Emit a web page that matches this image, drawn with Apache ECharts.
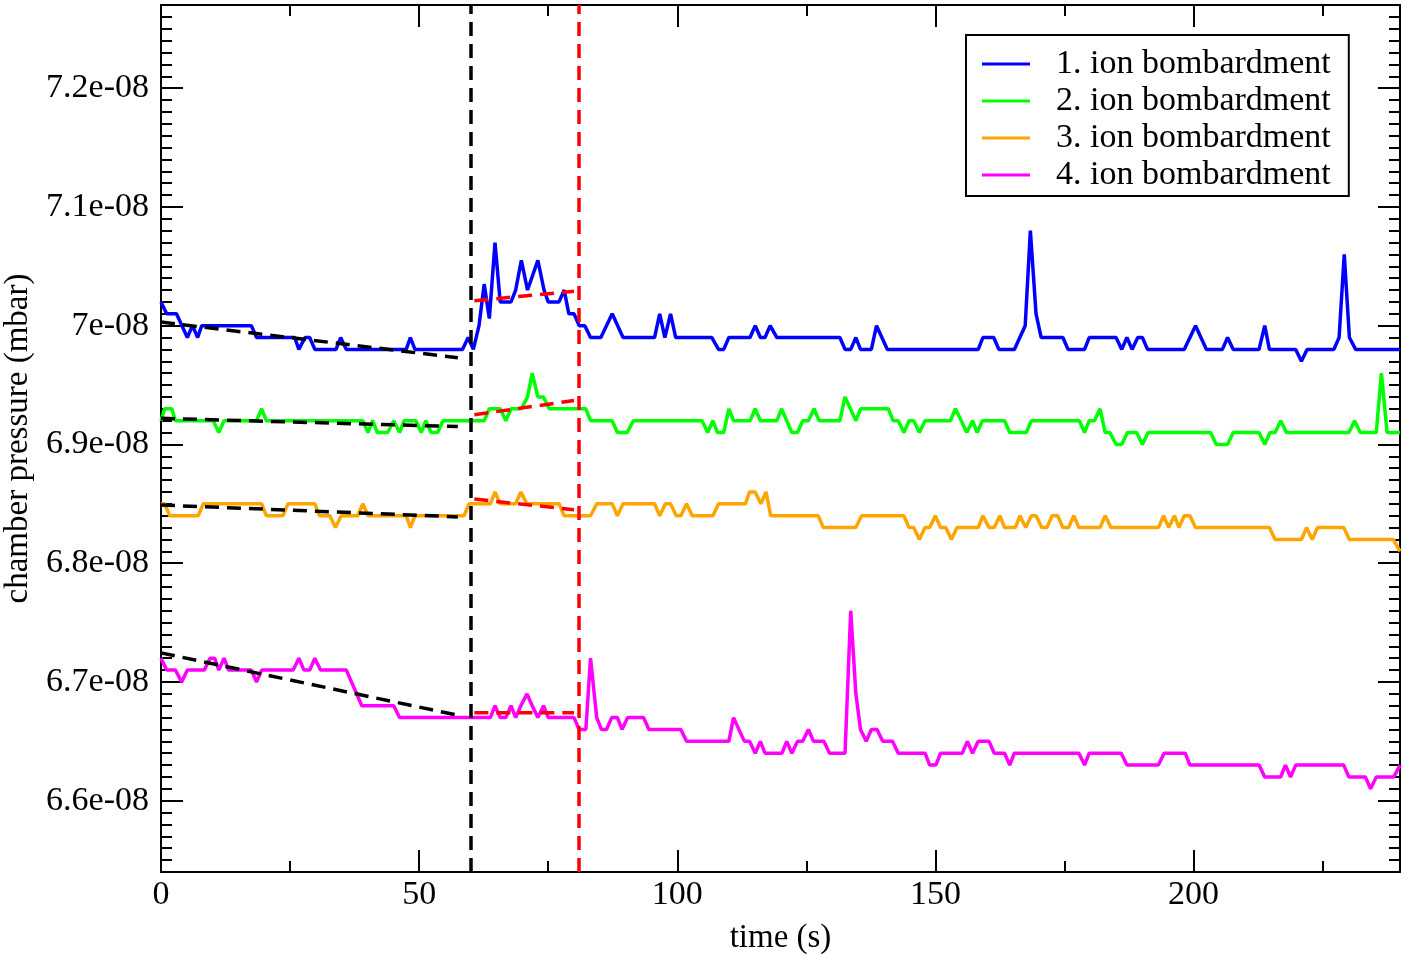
<!DOCTYPE html>
<html>
<head>
<meta charset="utf-8">
<title>chamber pressure during ion bombardment</title>
<script src="https://cdn.jsdelivr.net/npm/echarts@6.0.0/dist/echarts.min.js"></script>
<style>
  html, body { margin: 0; padding: 0; background: #fff; }
  #chart { width: 1407px; height: 955px; }
</style>
</head>
<body>
<div id="chart"></div>
<script>
// time (s), pressure in units of 1e-8 mbar; vertices of each trace
const run1 = [[0,7.02],[1.1,7.01],[3.0,7.01],[5.1,6.99],[6.1,7.00],[7.1,6.99],[7.9,7.00],[17.5,7.00],[18.5,6.99],[25.9,6.99],[26.7,6.98],[27.9,6.99],[28.8,6.99],[29.8,6.98],[33.9,6.98],[34.8,6.99],[35.9,6.98],[47.5,6.98],[48.3,6.99],[49.2,6.98],[58.4,6.98],[59.5,6.99],[60.5,6.98],[61.6,7.00],[62.6,7.035],[63.6,7.006],[64.7,7.07],[65.7,7.02],[67.8,7.02],[68.7,7.03],[69.8,7.055],[71.0,7.03],[73.0,7.055],[74.2,7.03],[75.0,7.02],[77.1,7.02],[78.1,7.03],[79.0,7.01],[80.0,7.01],[81.0,7.00],[82.1,7.00],[83.2,6.99],[85.2,6.99],[87.4,7.01],[89.5,6.99],[95.6,6.99],[96.6,7.01],[97.6,6.99],[98.7,7.01],[99.7,6.99],[106.7,6.99],[108.0,6.98],[109.0,6.98],[110.0,6.99],[114.1,6.99],[115.1,7.00],[116.1,6.99],[117.0,6.99],[118.0,7.00],[119.3,6.99],[131.5,6.99],[132.5,6.98],[133.6,6.98],[134.6,6.99],[135.5,6.98],[137.6,6.98],[138.6,7.00],[140.7,6.98],[158.3,6.98],[159.2,6.99],[161.3,6.99],[162.3,6.98],[165.3,6.98],[167.4,7.00],[168.4,7.08],[169.5,7.01],[170.5,6.99],[174.7,6.99],[175.7,6.98],[178.9,6.98],[179.8,6.99],[185.0,6.99],[186.1,6.98],[187.1,6.99],[188.1,6.98],[189.2,6.99],[190.1,6.99],[191.1,6.98],[198.2,6.98],[200.4,7.00],[202.5,6.98],[205.6,6.98],[206.6,6.99],[207.7,6.98],[212.7,6.98],[213.8,7.00],[214.7,6.98],[219.8,6.98],[220.9,6.97],[222.0,6.98],[227.2,6.98],[228.2,6.99],[229.2,7.06],[230.2,6.99],[231.4,6.98],[240,6.98]];
const run2 = [[0,6.92],[0.7,6.93],[2.1,6.93],[2.8,6.92],[10.1,6.92],[11.2,6.91],[12.2,6.92],[18.5,6.92],[19.5,6.93],[20.4,6.92],[39.1,6.92],[40.1,6.91],[41.0,6.92],[41.9,6.91],[43.9,6.91],[45.1,6.92],[46.2,6.91],[47.1,6.92],[49.4,6.92],[50.4,6.91],[51.3,6.92],[52.3,6.91],[53.6,6.91],[54.6,6.92],[62.6,6.92],[63.6,6.93],[65.7,6.93],[66.8,6.92],[67.8,6.93],[69.8,6.93],[71.0,6.94],[71.9,6.96],[73.0,6.94],[74.1,6.94],[75.2,6.93],[82.3,6.93],[83.2,6.92],[87.4,6.92],[88.4,6.91],[90.3,6.91],[91.5,6.92],[104.8,6.92],[105.9,6.91],[106.9,6.92],[107.8,6.91],[109.0,6.91],[110.0,6.93],[110.9,6.92],[114.1,6.92],[115.1,6.93],[116.1,6.92],[119.3,6.92],[120.2,6.93],[122.2,6.91],[123.3,6.91],[124.3,6.92],[125.4,6.92],[126.5,6.93],[127.5,6.92],[131.5,6.92],[132.5,6.94],[134.6,6.92],[135.5,6.93],[140.9,6.93],[141.8,6.92],[142.8,6.92],[143.9,6.91],[144.9,6.92],[145.8,6.92],[146.9,6.91],[148.0,6.92],[152.9,6.92],[153.9,6.93],[156.1,6.91],[157.2,6.92],[158.1,6.91],[159.1,6.92],[163.4,6.92],[164.4,6.91],[167.6,6.91],[168.6,6.92],[177.9,6.92],[178.9,6.91],[179.8,6.92],[180.8,6.92],[181.9,6.93],[182.9,6.91],[183.8,6.91],[185.0,6.90],[186.1,6.90],[187.2,6.91],[189.0,6.91],[190.1,6.90],[191.2,6.91],[203.3,6.91],[204.4,6.90],[206.6,6.90],[207.7,6.91],[212.7,6.91],[213.8,6.90],[214.8,6.91],[215.8,6.91],[216.9,6.92],[218.0,6.91],[230.1,6.91],[231.2,6.92],[232.3,6.91],[235.4,6.91],[236.4,6.96],[237.5,6.91],[240,6.91]];
const run3 = [[0,6.85],[0.7,6.85],[1.7,6.84],[7.2,6.84],[8.2,6.85],[19.5,6.85],[20.4,6.84],[23.6,6.84],[24.6,6.85],[29.8,6.85],[30.7,6.84],[32.7,6.84],[33.8,6.83],[34.9,6.84],[38.1,6.84],[39.1,6.85],[40.1,6.84],[47.5,6.84],[48.3,6.83],[49.2,6.84],[58.7,6.84],[59.7,6.85],[63.8,6.85],[64.7,6.86],[65.7,6.85],[68.7,6.85],[69.7,6.86],[70.9,6.85],[77.1,6.85],[78.1,6.84],[83.2,6.84],[84.4,6.85],[87.4,6.85],[88.4,6.84],[89.5,6.85],[95.6,6.85],[96.6,6.84],[97.7,6.85],[98.7,6.85],[99.8,6.84],[100.7,6.84],[101.8,6.85],[102.9,6.84],[106.9,6.84],[108.0,6.85],[113.2,6.85],[114.0,6.86],[115.1,6.86],[116.2,6.85],[117.2,6.86],[118.1,6.84],[127.3,6.84],[128.3,6.83],[134.6,6.83],[135.7,6.84],[143.9,6.84],[144.9,6.83],[145.8,6.83],[146.9,6.82],[148.0,6.83],[148.9,6.83],[150.0,6.84],[151.0,6.83],[152.0,6.83],[153.1,6.82],[154.2,6.83],[158.3,6.83],[159.2,6.84],[160.4,6.83],[161.4,6.83],[162.5,6.84],[163.4,6.83],[165.5,6.83],[166.4,6.84],[167.5,6.83],[168.6,6.84],[169.5,6.84],[170.6,6.83],[171.6,6.83],[172.6,6.84],[173.7,6.84],[174.7,6.83],[175.8,6.83],[176.8,6.84],[177.8,6.83],[181.9,6.83],[182.9,6.84],[184.0,6.83],[193.2,6.83],[194.2,6.84],[195.2,6.83],[196.3,6.84],[197.2,6.83],[198.2,6.84],[199.3,6.84],[200.4,6.83],[214.7,6.83],[215.8,6.82],[220.9,6.82],[221.9,6.83],[223.0,6.82],[224.0,6.83],[229.1,6.83],[230.2,6.82],[238.7,6.82],[240,6.81]];
const run4 = [[0,6.72],[1.1,6.71],[2.8,6.71],[4.0,6.70],[5.1,6.71],[8.4,6.71],[9.5,6.72],[10.4,6.72],[11.2,6.71],[12.2,6.72],[13.1,6.71],[17.5,6.71],[18.5,6.70],[19.5,6.71],[25.6,6.71],[26.7,6.72],[27.7,6.71],[28.8,6.71],[29.8,6.72],[30.9,6.71],[35.9,6.71],[38.9,6.68],[45.1,6.68],[46.2,6.67],[63.8,6.67],[64.7,6.68],[65.7,6.67],[66.8,6.67],[67.8,6.68],[68.7,6.67],[69.7,6.68],[70.9,6.69],[71.9,6.68],[73.0,6.67],[74.1,6.68],[75.0,6.67],[80.0,6.67],[81.0,6.66],[82.3,6.66],[83.2,6.72],[84.4,6.67],[85.3,6.66],[86.3,6.66],[87.3,6.67],[88.4,6.67],[89.3,6.66],[90.4,6.67],[93.5,6.67],[94.5,6.66],[100.7,6.66],[101.8,6.65],[110.0,6.65],[110.9,6.67],[113.0,6.65],[114.0,6.65],[115.1,6.64],[116.1,6.65],[117.0,6.64],[120.3,6.64],[121.2,6.65],[122.2,6.64],[123.3,6.65],[124.3,6.65],[125.4,6.66],[126.4,6.65],[128.4,6.65],[129.5,6.64],[132.5,6.64],[133.6,6.76],[134.6,6.69],[135.5,6.66],[136.6,6.65],[137.6,6.66],[138.7,6.66],[139.8,6.65],[141.7,6.65],[142.8,6.64],[148.0,6.64],[148.9,6.63],[150.1,6.63],[151.0,6.64],[155.2,6.64],[156.2,6.65],[157.2,6.64],[158.3,6.65],[160.4,6.65],[161.4,6.64],[163.4,6.64],[164.4,6.63],[165.3,6.64],[177.8,6.64],[178.9,6.63],[179.8,6.64],[186.0,6.64],[187.1,6.63],[193.2,6.63],[194.3,6.64],[198.4,6.64],[199.3,6.63],[212.7,6.63],[213.8,6.62],[216.9,6.62],[217.8,6.63],[218.8,6.62],[219.8,6.63],[229.1,6.63],[230.1,6.62],[233.3,6.62],[234.3,6.61],[235.4,6.62],[238.8,6.62],[240,6.63]];

// linear fits before bombardment (black) and during it (red)
const fitBefore = [
  [[0,7.003],[57.5,6.973]],
  [[0,6.922],[57.5,6.915]],
  [[0,6.849],[57.5,6.839]],
  [[0,6.7245],[57.5,6.672]]
];
const fitDuring = [
  [[60.7,7.021],[80,7.029]],
  [[60.7,6.925],[80,6.937]],
  [[60.7,6.854],[80,6.845]],
  [[60.7,6.674],[80,6.674]]
];
const bombardStart = 60;
const bombardEnd = 81;

const names = ['1. ion bombardment', '2. ion bombardment', '3. ion bombardment', '4. ion bombardment'];
const colors = ['#0000ff', '#00ff00', '#ffa500', '#ff00ff'];
const runs = [run1, run2, run3, run4];

const font = 'Liberation Serif';
const dash = [14, 8];

const chart = echarts.init(document.getElementById('chart'));

const tickStyle = { color: '#000', width: 2 };

const xCommon = {
  type: 'value',
  min: 0,
  max: 240,
  interval: 50,
  axisLine: { onZero: false, lineStyle: { color: '#000', width: 2 } },
  axisTick: { inside: true, length: 22, lineStyle: tickStyle },
  minorTick: { show: true, splitNumber: 2, length: 11, lineStyle: tickStyle },
  splitLine: { show: false },
  minorSplitLine: { show: false }
};

const yCommon = {
  type: 'value',
  min: 6.54,
  max: 7.27,
  splitNumber: 7,
  minInterval: 0.1,
  maxInterval: 0.1,
  axisLine: { onZero: false, lineStyle: { color: '#000', width: 2 } },
  axisTick: { inside: true, length: 22, lineStyle: tickStyle },
  minorTick: { show: true, splitNumber: 10, length: 11, lineStyle: tickStyle },
  splitLine: { show: false },
  minorSplitLine: { show: false }
};

const series = [];

runs.forEach((data, i) => {
  series.push({
    name: names[i],
    type: 'line',
    data: data,
    showSymbol: false,
    symbol: 'none',
    color: colors[i],
    lineStyle: { color: colors[i], width: 3.5 },
    z: 2
  });
});

fitBefore.forEach((data, i) => {
  series.push({
    name: 'fit before ' + (i + 1),
    type: 'line',
    data: data,
    symbol: 'none',
    lineStyle: { color: '#000', width: 3.5, type: dash },
    z: 3
  });
});

fitDuring.forEach((data, i) => {
  series.push({
    name: 'fit during ' + (i + 1),
    type: 'line',
    data: data,
    symbol: 'none',
    lineStyle: { color: '#ff0000', width: 3.5, type: dash },
    z: 3
  });
});

// vertical markers for start / end of bombardment
series.push({
  name: 'markers',
  type: 'line',
  data: [],
  markLine: {
    silent: true,
    symbol: ['none', 'none'],
    label: { show: false },
    data: [
      { xAxis: bombardStart, lineStyle: { color: '#000', width: 3.5, type: dash } },
      { xAxis: bombardEnd, lineStyle: { color: '#ff0000', width: 3.5, type: dash } }
    ]
  },
  z: 4
});

const option = {
  animation: false,
  backgroundColor: '#fff',
  grid: { left: 161, right: 7, top: 5, bottom: 83, containLabel: false, outerBoundsMode: 'none' },
  legend: {
    data: names,
    orient: 'vertical',
    left: 966,
    top: 35,
    icon: 'rect',
    itemWidth: 48,
    itemHeight: 3,
    itemGap: 3,
    padding: [12, 18, 4, 16],
    borderColor: '#000',
    borderWidth: 2,
    backgroundColor: '#fff',
    selectedMode: false,
    textStyle: {
      fontFamily: font,
      fontSize: 34,
      color: '#000',
      lineHeight: 34,
      padding: [0, 0, 0, 21]
    }
  },
  xAxis: [
    Object.assign({}, xCommon, {
      position: 'bottom',
      name: 'time (s)',
      nameLocation: 'middle',
      nameGap: 50,
      nameTextStyle: { fontFamily: font, fontSize: 33, color: '#000' },
      axisLabel: {
        fontFamily: font, fontSize: 34, color: '#000', margin: 6,
        showMaxLabel: false
      }
    }),
    Object.assign({}, xCommon, {
      position: 'top',
      axisLabel: { show: false }
    })
  ],
  yAxis: [
    Object.assign({}, yCommon, {
      position: 'left',
      name: 'chamber pressure (mbar)',
      nameLocation: 'middle',
      nameGap: 125,
      nameTextStyle: { fontFamily: font, fontSize: 33, color: '#000' },
      axisLabel: {
        fontFamily: font, fontSize: 34, color: '#000', margin: 12,
        showMinLabel: false,
        showMaxLabel: false,
        formatter: (v) => (Math.round(v * 10) / 10) + 'e-08'
      }
    }),
    Object.assign({}, yCommon, {
      position: 'right',
      axisLabel: { show: false }
    })
  ],
  series: series
};

chart.setOption(option);
</script>
</body>
</html>
